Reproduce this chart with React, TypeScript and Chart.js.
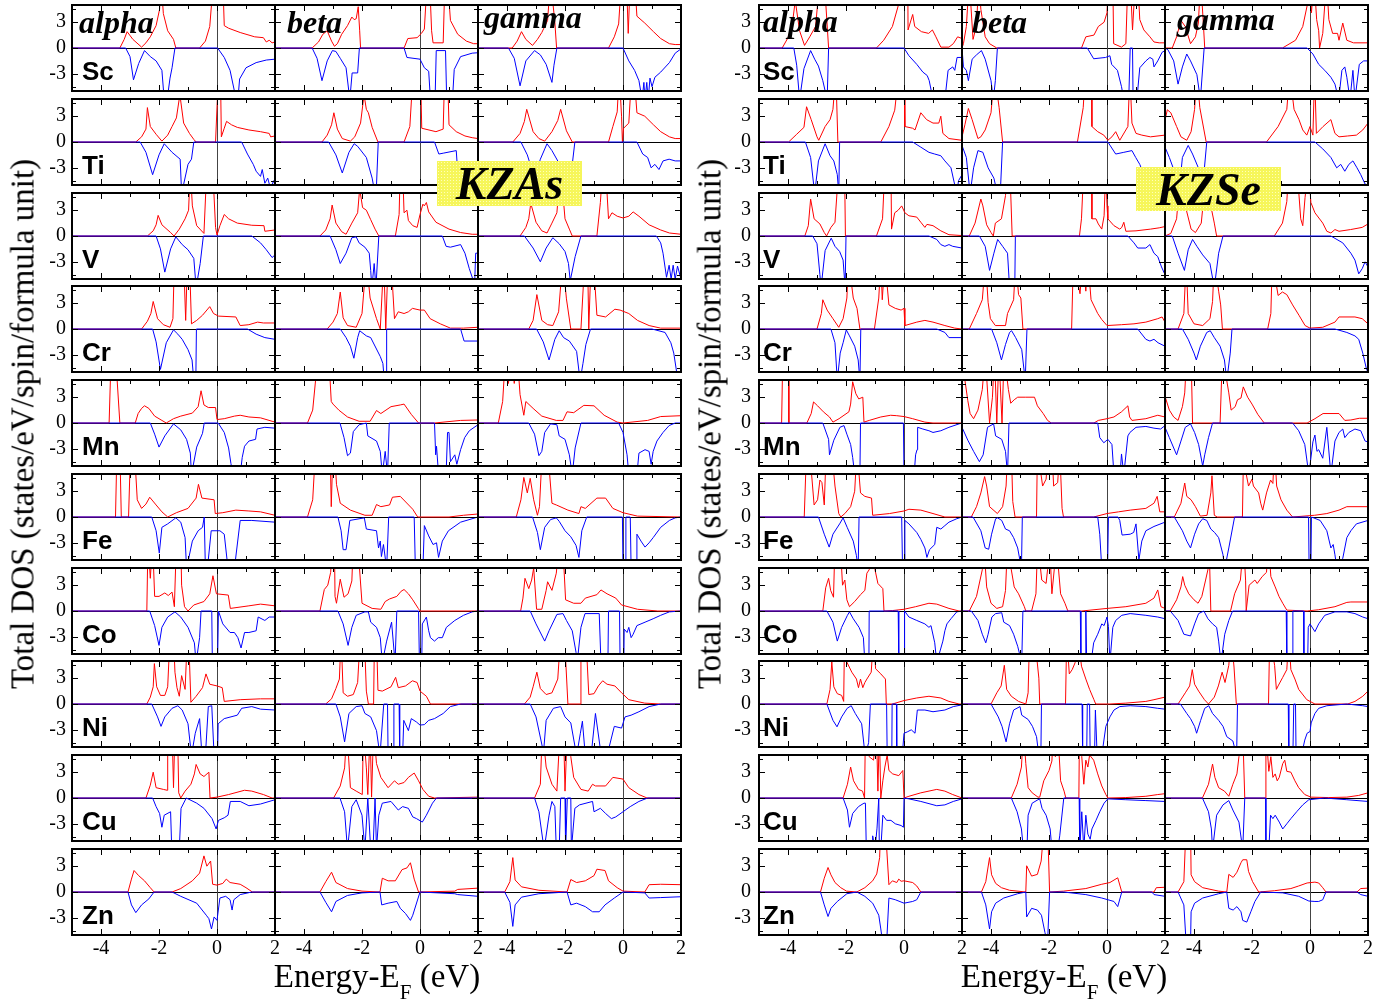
import React, { useEffect, useRef } from 'react';
import { Chart, registerables } from 'chart.js';

Chart.register(...registerables);

// ---------- labels & axes ----------
const ELEMENTS = ['Sc', 'Ti', 'V', 'Cr', 'Mn', 'Fe', 'Co', 'Ni', 'Cu', 'Zn'];
const PHASES = ['alpha', 'beta', 'gamma'];
const COMPOUNDS = ['KZAs', 'KZSe'];
const X_MIN = -5, X_MAX = 2, Y_MIN = -5, Y_MAX = 5;
const X_LABEL_TICKS = [-4, -2, 0, 2];
const Y_LABEL_TICKS = [-3, 0, 3];
const X_MARKS = [-4, -3, -2, -1, 0, 1];
const Y_MARKS = [-4.5, -3, 0, 3, 4.5];
const Y_TITLE = 'Total DOS (states/eV/spin/formula unit)';

// ---------- KZAs data: [E, DOS] pairs, up = red, dn = blue ----------
const asSc_a_up = [-5,0,-3.35,0,-3.2,1,-3.1,1.9,-2.9,1,-2.6,0.1,-2.45,0.6,-2.3,1.3,-2.1,2.6,-1.98,4.5,-1.93,8,-1.85,4,-1.7,2,-1.5,1,-1.42,0,-0.6,0,-0.4,0.8,-0.25,2.5,-0.12,8,0.2,8,0.25,2.6,0.4,2.3,0.8,1.8,1.3,1.3,1.6,1.2,1.7,0.7,1.8,0.9,1.9,0.6,2,0.7];
const asSc_a_dn = [-5,0,-3.15,0,-3,-1,-2.88,-3.7,-2.7,-1.8,-2.5,-0.3,-2.3,-1,-2.1,-1.5,-1.9,-2.6,-1.82,-6,-1.72,-6,-1.62,-3.5,-1.55,-2.3,-1.45,0,0.02,0,0.25,-1.1,0.45,-2.6,0.6,-5,0.72,-6,0.78,-3.6,1,-2.3,1.35,-1.7,1.7,-1.4,2,-1.3];
const asSc_b_up = [-5,0,-3.72,0,-3.5,0.7,-3.35,1.6,-3.2,2,-3.05,0.8,-2.95,0.2,-2.85,0.5,-2.7,1.6,-2.5,2.6,-2.35,3.6,-2.27,3.3,-2.2,3.4,-2.13,4.8,-2.08,2,-2.05,0,-0.55,0,-0.42,1.1,-0.1,1.2,0.05,1.7,0.15,2.2,0.25,8,0.33,8,0.4,2,0.45,0.6,0.8,0.6,0.86,8,0.95,8,1.05,3.2,1.3,1.6,1.6,0.8,1.85,0.5,2,0.5];
const asSc_b_dn = [-5,0,-3.72,0,-3.55,-1.2,-3.38,-3.8,-3.2,-1.5,-3.02,-0.3,-2.9,-0.4,-2.75,-1.2,-2.55,-2.3,-2.42,-6,-2.34,-2.9,-2.15,-2.9,-2.09,0,-0.55,0,-0.45,-1.1,0,-1.3,0.15,-2.3,0.3,-2.7,0.36,-6,0.52,-6,0.56,-0.3,0.88,-0.3,0.92,-6,1.12,-6,1.18,-2.5,1.4,-1,1.8,-0.6,2,-0.55];
const asSc_g_up = [-5,0,-3.82,0,-3.65,0.8,-3.5,1.9,-3.35,1,-3.12,0.3,-2.95,1,-2.8,1.8,-2.6,3.2,-2.5,8,-2.35,3,-2.29,0,-0.5,0,-0.3,1.3,-0.15,2.8,-0.05,8,0.12,8,0.18,1.7,0.25,8,0.4,8,0.48,3.7,0.75,2.9,1.05,1.9,1.3,1.1,1.6,0.5,1.8,0.4,2,0.4];
const asSc_g_dn = [-5,0,-3.95,0,-3.75,-1.2,-3.55,-4.4,-3.35,-1.5,-3.05,-0.3,-2.85,-0.8,-2.65,-1.9,-2.45,-4,-2.38,-2,-2.28,0,0,0,0.2,-1.5,0.4,-2.6,0.55,-3.8,0.66,-6,0.72,-4,0.76,-6,0.82,-4,0.87,-6,0.93,-3.5,1,-4.5,1.1,-3.4,1.3,-2.8,1.6,-1.7,1.8,-0.6,2,-0.1];

const asTi_a_up = [-5,0,-2.8,0,-2.6,0.6,-2.45,1.5,-2.4,4,-2.3,1.8,-2.1,0.9,-1.9,0.1,-1.7,0.8,-1.55,1.8,-1.4,2.8,-1.28,5.5,-1.15,2.2,-0.95,1,-0.8,0.3,-0.72,0,-0.05,0,0.05,8,0.12,8,0.15,0.6,0.25,1.6,0.33,2.4,0.5,2,0.7,1.7,1.1,1.4,1.5,1.2,1.8,1,1.85,0.6,2,0.7];
const asTi_a_dn = [-5,0,-2.65,0,-2.45,-1.2,-2.22,-3.8,-2,-1.5,-1.82,-0.2,-1.55,-1.2,-1.27,-2,-1.22,-6,-1,-2.6,-0.88,-2,-0.8,0,0.85,0,1.05,-1.4,1.25,-2.6,1.35,-3.4,1.5,-4,1.56,-3.2,1.65,-4.8,1.75,-4.2,1.85,-5.5,1.95,-4.5,2,-5];
const asTi_b_up = [-5,0,-3.38,0,-3.2,0.8,-3.05,2,-2.97,3.4,-2.85,1.5,-2.68,0.4,-2.4,0.1,-2.25,0.6,-2.05,2.2,-1.93,5.5,-1.85,3.8,-1.78,3.4,-1.65,1.7,-1.45,0,-0.55,0,-0.35,1.8,-0.24,8,0.02,8,0.06,1.6,0.55,1.2,0.8,1.5,0.85,8,0.95,8,1,2,1.25,1.2,1.55,0.7,1.8,0.5,2,0.4];
const asTi_b_dn = [-5,0,-3.15,0,-2.9,-1.5,-2.68,-3.6,-2.45,-1.2,-2.27,-0.2,-2.15,-0.5,-1.85,-1.8,-1.65,-4.2,-1.58,-5.5,-1.5,-5,-1.44,0,0.5,0,0.65,-1.4,0.8,-1.3,1.25,-1,1.35,-6,1.6,-4.5,2,-4.5];
const asTi_g_up = [-5,0,-3.8,0,-3.55,1,-3.4,2.4,-3.32,3.8,-3.1,1.2,-2.9,0.4,-2.7,0.1,-2.45,1.2,-2.25,2.5,-2.15,3.8,-1.95,1.3,-1.75,0,-0.5,0,-0.35,1.8,-0.2,3.5,-0.13,8,-0.05,3,-0.02,0,0.02,1.6,0.2,2.2,0.3,8,0.38,8,0.48,3.4,0.75,3,1.05,2,1.3,1.2,1.6,0.6,1.8,0.4,2,0.4];
const asTi_g_dn = [-5,0,-3.52,0,-3.3,-1.5,-3.05,-4.2,-2.85,-2,-2.62,-0.2,-2.45,-1,-2.05,-3.4,-1.85,-5.5,-1.66,0,0.48,0,0.68,-1.4,0.85,-1.8,0.97,-3,1.1,-2.6,1.24,-3.2,1.38,-2.2,1.59,-2,1.8,-2.2,2,-2.2];

const asV_a_up = [-5,0,-2.4,0,-2.2,0.6,-2.1,1.3,-2.03,2.4,-1.9,1.3,-1.6,0.4,-1.48,0,-1.3,0.8,-1.1,2,-0.98,3,-0.92,8,-0.85,3.5,-0.7,1.2,-0.45,0.3,-0.35,8,-0.15,8,-0.05,1,0,0.1,0.1,1.2,0.25,2.5,0.4,2,0.7,1.5,1.2,1.25,1.62,1.2,1.65,0.55,2,0.7];
const asV_a_dn = [-5,0,-2.1,0,-1.95,-1.5,-1.8,-4.2,-1.6,-1.5,-1.42,-0.1,-1.2,-1,-1,-1.6,-0.8,-2.6,-0.72,-6,-0.58,-3.2,-0.47,0,1.2,0,1.5,-0.8,1.7,-1.6,1.9,-2.5,2,-2.2];
const asV_b_up = [-5,0,-3.45,0,-3.25,0.7,-3.1,2,-3.03,3.6,-2.9,1.5,-2.7,0.5,-2.55,0.2,-2.35,1.5,-2.15,2.7,-2.08,5.5,-1.98,3.3,-1.85,3,-1.7,1.9,-1.55,0.8,-1.42,0,-0.85,0,-0.72,2.5,-0.68,8,-0.6,8,-0.55,2.7,-0.45,3,-0.4,1.8,-0.25,1.2,-0.1,1,0,2.5,0.1,3.7,0.15,3.5,0.22,3.9,0.3,2.8,0.55,1.6,1,0.8,1.4,0.4,1.8,0.2,2,0.2];
const asV_b_dn = [-5,0,-3.1,0,-2.9,-1.6,-2.75,-3.2,-2.55,-2,-2.35,-0.2,-2.2,-0.1,-2.1,-0.8,-1.9,-1.3,-1.75,-2,-1.7,-4,-1.66,-6,-1.58,-3.2,-1.52,-6,-1.42,0,0.77,0,0.9,-1.2,1.05,-1.3,1.4,-1,1.55,-2,1.7,-3.8,1.82,-5,1.88,-6,1.92,-2,2,-2];
const asV_g_up = [-5,0,-3.55,0,-3.35,1,-3.25,2,-3.18,3.8,-3,1.6,-2.8,0.6,-2.62,0.35,-2.45,1.5,-2.28,2.7,-2.15,8,-2,2,-1.85,0.8,-1.75,0,-0.9,0,-0.78,3.9,-0.7,8,-0.6,8,-0.5,2,-0.38,2.7,-0.2,2.3,0,2.1,0.2,2.3,0.35,2.8,0.55,2.3,0.9,1.3,1.3,0.7,1.6,0.35,2,0.2];
const asV_g_dn = [-5,0,-3.4,0,-3.1,-1.4,-2.85,-3,-2.65,-1.4,-2.42,-0.2,-2.2,-0.9,-2,-1.8,-1.88,-3.2,-1.82,-5.2,-1.65,-2.4,-1.45,0,1.15,0,1.3,-0.8,1.38,-2,1.5,-4.8,1.59,-3.4,1.66,-5,1.73,-3.4,1.8,-5,1.88,-3.5,2,-5];

const asCr_a_up = [-5,0,-2.6,0,-2.4,0.9,-2.28,1.8,-2.2,3.2,-2.05,1.2,-1.85,0.5,-1.62,0.2,-1.52,1.2,-1.47,8,-1.15,8,-1.08,1,-1.02,8,-0.95,8,-0.88,0.6,-0.7,1,-0.5,1.6,-0.25,2.6,-0.12,1.8,0.05,1.5,0.65,1.4,0.8,0.4,1.1,0.5,1.4,0.8,1.6,0.7,2,0.7];
const asCr_a_dn = [-5,0,-2.22,0,-2.1,-1.5,-1.95,-4.7,-1.75,-1.6,-1.5,-0.1,-1.35,-0.6,-1.2,-1.2,-1,-2.4,-0.86,-3.6,-0.8,-6,-0.73,-6,-0.71,0,1.05,0,1.35,-0.6,1.65,-1,2,-1.2];
const asCr_b_up = [-5,0,-3.2,0,-3,0.8,-2.85,1.8,-2.75,4.3,-2.65,1.3,-2.5,0.4,-2.2,0.2,-2,1.8,-1.85,8,-1.72,3.6,-1.5,1.2,-1.37,0,-1.25,8,-1.18,0,-1.1,8,-1,8,-0.88,1.2,-0.75,2,-0.55,1.8,-0.4,2,-0.26,2.4,0,2.2,0.15,2.2,0.35,1.2,0.7,0.6,1.05,0.1,1.5,0.1,2,0.2];
const asCr_b_dn = [-5,0,-2.75,0,-2.55,-1,-2.4,-2,-2.28,-3.4,-2.15,-1,-2.08,-0.2,-1.85,-0.8,-1.7,-1,-1.37,-3.2,-1.28,-4,-1.23,-6,-1.17,-6,-1.15,0,1.4,0,1.52,-1.4,2,-1.4];
const asCr_g_up = [-5,0,-3.25,0,-3.1,1,-2.97,4,-2.8,1,-2.6,0.5,-2.42,0.4,-2.22,2,-2.08,8,-1.95,3.5,-1.8,0,-1.45,0,-1.32,8,-1.22,8,-1.18,0,-1.1,8,-1.02,8,-0.9,1.6,-0.6,1.4,-0.28,2.3,-0.1,2.2,0.2,1.8,0.5,1,0.9,0.4,1.3,0.1,2,0.1];
const asCr_g_dn = [-5,0,-2.98,0,-2.75,-1.5,-2.55,-3.6,-2.35,-1.2,-2.2,-0.2,-2.05,-1,-1.85,-1.4,-1.6,-2.6,-1.48,-6,-1.38,-4,-1.28,-1.8,-1.12,0,1,0,1.45,-0.4,1.65,-1.6,1.75,-2.8,1.85,-5,2,-5];

const asMn_a_up = [-5,0,-3.72,0,-3.65,8,-3.5,8,-3.35,0,-2.82,0,-2.72,1.1,-2.6,1.7,-2.5,2,-2.35,1.7,-2.15,0.8,-1.9,0.3,-1.75,0,-1.5,0.5,-1.25,0.8,-0.85,1.15,-0.65,1.9,-0.55,3.75,-0.45,2.1,-0.3,1.8,-0.05,1.8,0,0.4,0.25,0.5,0.6,0.8,0.8,0.9,1.1,0.7,1.5,0.6,1.9,0.2,2,0.1];
const asMn_a_dn = [-5,0,-2.3,0,-2.15,-1.3,-2,-2.8,-1.8,-1.5,-1.5,-0.1,-1.25,-0.8,-1.05,-1.9,-0.92,-3.5,-0.88,-6,-0.7,-2.8,-0.5,-1.2,-0.44,0,0.04,0,0.25,-1.1,0.4,-2.9,0.48,-4.7,0.55,-6,0.8,-6,0.87,-4,0.95,-2.7,1.1,-2.1,1.33,-1.9,1.38,-0.7,1.65,-0.5,2,-0.6];
const asMn_b_up = [-5,0,-3.88,0,-3.7,1.5,-3.6,5,-3.55,8,-3.15,8,-3.06,2.5,-3,2.2,-2.8,1.5,-2.5,0.7,-2.1,0.2,-1.72,0.2,-1.5,1.45,-1.35,1.1,-1,1.9,-0.68,2.1,-0.55,2.2,-0.3,1,-0.05,0,0.5,0,1.4,0.3,2,0.35];
const asMn_b_dn = [-5,0,-2.76,0,-2.62,-1.7,-2.5,-3.8,-2.4,-3.5,-2.3,-1,-2.1,-0.2,-1.85,0,-1.8,-1.5,-1.5,-2.1,-1.37,-3.3,-1.3,-6,-1.2,-3.3,-1.12,-6,-1.06,0,0.5,0,0.54,-3.7,0.57,-2.7,0.64,-6,0.9,-6,0.95,-1.1,1,-1.1,1.05,-4.5,1.2,-3.7,1.27,-4.8,1.4,-3.1,1.54,-1.7,1.7,-0.9,2,-0.2];
const asMn_g_up = [-5,0,-4.3,0,-4.15,2.5,-4.05,8,-3.95,4.6,-3.85,8,-3.75,4.6,-3.65,8,-3.55,3.3,-3.42,0.9,-3.35,2.5,-3.1,1.7,-2.8,0.8,-2.3,0.3,-2.07,0.3,-1.93,1.3,-1.7,1.2,-1.35,2.05,-1,2,-0.65,0.9,-0.2,0.1,0,0,0.85,0.3,1.3,0.75,2,0.85];
const asMn_g_dn = [-5,0,-3.25,0,-3.05,-1.3,-2.9,-3.8,-2.8,-3.3,-2.7,-1.1,-2.5,-0.1,-2.28,-0.2,-2.2,-1.5,-2,-1.9,-1.85,-3.7,-1.75,-6,-1.65,-2.9,-1.45,0,-0.15,0,0,-1.1,0.14,-3.7,0.2,-6,0.48,-6,0.55,-3.5,0.76,-3.1,0.9,-3.3,0.97,-4.8,1.04,-3.3,1.17,-2.1,1.38,-1.1,1.59,-0.3,1.8,0,2,0];

const asFe_a_up = [-5,0,-3.5,0,-3.45,8,-3.35,8,-3.3,0,-3.05,0,-2.98,8,-2.85,8,-2.75,2,-2.6,1,-2.45,1.5,-2.32,2.3,-2.1,1.4,-1.9,0.6,-1.7,0,-1.4,0.5,-1,1,-0.72,2.2,-0.64,3.8,-0.52,2.2,-0.1,2,-0.06,0.4,0.2,0.5,0.65,0.8,1.1,0.7,1.5,0.6,2,0.2];
const asFe_a_dn = [-5,0,-2.25,0,-2.1,-1.6,-1.99,-4.2,-1.9,-1.2,-1.7,-0.8,-1.42,-0.1,-1.25,-0.6,-1.1,-2.4,-1.05,-6,-0.85,-2.8,-0.65,-1.6,-0.5,-1.2,-0.44,0,-0.4,-6,-0.33,-6,-0.2,-1.6,0.1,-1.6,0.25,-2,0.38,-6,0.6,-6,0.8,-0.4,1.2,-0.4,2,-0.6];
const asFe_b_up = [-5,0,-3.88,0,-3.7,2,-3.6,8,-3.1,8,-3.06,1.2,-3,8,-2.95,8,-2.88,3.8,-2.75,1.6,-2.4,0.8,-1.9,0.2,-1.65,0.2,-1.5,1.45,-1.35,1.2,-1.05,1.4,-0.95,2.3,-0.68,2.4,-0.25,0.9,-0.08,0,1,0,1.5,0.2,2,0.35];
const asFe_b_dn = [-5,0,-2.83,0,-2.72,-1.6,-2.65,-3.8,-2.55,-3.8,-2.42,-0.4,-1.92,-0.1,-1.85,-1.4,-1.5,-1.6,-1.43,-3.6,-1.37,-2.8,-1.33,-4.6,-1.26,-3.2,-1.15,-6,-1.08,0,-0.2,0,-0.16,-6,0.1,-6,0.15,-1,0.3,-2.2,0.45,-3.2,0.57,-3,0.64,-4.7,0.77,-2.8,0.98,-1.6,1.4,-0.6,1.9,-0.1,2,0];
const asFe_g_up = [-5,0,-3.68,0,-3.52,2,-3.42,4.6,-3.3,2.8,-3.2,4.5,-3.08,2,-2.95,0.2,-2.88,1.2,-2.78,8,-2.6,8,-2.45,1.6,-2.3,1.4,-1.9,0.8,-1.52,0.4,-1.45,1.2,-1.3,1,-0.9,2.2,-0.6,2.2,-0.35,1,0,0.5,0.5,0.1,2,0];
const asFe_g_dn = [-5,0,-3.12,0,-2.95,-1.8,-2.85,-3.8,-2.7,-1.2,-2.5,-0.3,-2.3,-0.1,-2.2,-0.5,-2,-1.6,-1.8,-2.3,-1.62,-3.3,-1.52,-4.7,-1.42,-1.6,-1.25,0,-0.02,0,0,-6,0.08,-6,0.1,0,0.25,0,0.28,-6,0.45,-6,0.48,-2,0.62,-2.8,0.76,-3.5,0.9,-3,1.04,-2.4,1.3,-1.2,1.6,-0.4,1.8,-0.1,2,0];

const asCo_a_up = [-5,0,-2.42,0,-2.38,8,-2.3,3.8,-2.22,8,-2.15,1.7,-2,1.7,-1.8,2.1,-1.68,1.8,-1.55,2.2,-1.47,0.5,-1.4,8,-1.25,8,-1.22,3,-1.12,0.5,-1,0,-0.8,0.7,-0.45,1.1,-0.25,2,-0.14,4.1,-0.02,2,0.39,1.85,0.46,0.3,1.1,0.6,1.5,0.8,2,0.6];
const asCo_a_dn = [-5,0,-2.32,0,-2.15,-1.7,-2,-4,-1.9,-1.9,-1.7,-0.7,-1.45,-0.1,-1.25,-0.7,-1,-1.9,-0.78,-3.7,-0.72,-6,-0.6,-3.1,-0.55,0,-0.18,0,-0.16,-6,0.02,-6,0.05,0,0.2,-1.5,0.45,-2.5,0.6,-2.5,0.72,-3.1,0.83,-4.3,0.95,-2.5,1.1,-2.5,1.35,-2.3,1.42,-0.7,1.65,-1.1,1.8,-0.7,2,-0.7];
const asCo_b_up = [-5,0,-3.45,0,-3.3,2.5,-3.18,3,-3.08,4.5,-3.02,8,-2.95,8,-2.93,1.7,-2.88,0.9,-2.75,3.7,-2.62,1.6,-2.48,2,-2.35,3.5,-2.3,8,-2.15,8,-2,0.9,-1.65,0.3,-1.35,0.2,-1.2,1.1,-1.05,1.4,-0.8,1.7,-0.65,2.3,-0.55,2.5,-0.4,2,-0.25,1.3,-0.06,0.3,0,0,2,0];
const asCo_b_dn = [-5,0,-2.83,0,-2.65,-1.5,-2.48,-4,-2.35,-1.9,-2.2,-0.5,-1.9,-0.1,-1.78,-0.1,-1.7,-1.3,-1.5,-1.9,-1.37,-3.1,-1.3,-6,-1.15,-3.5,-0.98,-1.3,-0.86,-6,-0.8,0,-0.05,0,-0.02,-6,0.06,-6,0.08,-1.5,0.22,-0.7,0.3,-2.3,0.36,-3.1,0.5,-3.5,0.63,-3.1,0.77,-3.1,0.91,-1.9,1.2,-1.1,1.5,-0.5,1.8,-0.1,2,0];
const asCo_g_up = [-5,0,-3.53,0,-3.45,1.5,-3.38,3.8,-3.25,2.6,-3.15,3.6,-3.08,5,-2.98,0.2,-2.8,0.2,-2.65,2.4,-2.6,3.4,-2.45,2.4,-2.3,4.4,-2.2,8,-2.08,8,-1.98,1.3,-1.7,0.9,-1.45,0.9,-1.3,1.5,-0.9,1.9,-0.76,2.45,-0.55,2,-0.25,1.5,-0.05,0.7,0.5,0.2,1.2,0,2,0];
const asCo_g_dn = [-5,0,-3.2,0,-3,-1.5,-2.7,-3.5,-2.55,-2.3,-2.28,-0.4,-2.07,-0.3,-1.95,-1.1,-1.75,-2.3,-1.62,-4.8,-1.58,-6,-1.45,-1.9,-1.31,-0.3,-0.82,-0.3,-0.76,-6,-0.52,-6,-0.5,0,-0.12,0,-0.1,-6,0.03,-6,0.04,-2.1,0.14,-2.5,0.2,-1.9,0.28,-3.1,0.35,-2.7,0.48,-1.7,0.76,-1.3,1.04,-0.9,1.3,-0.5,1.6,-0.1,2,0];

const asNi_a_up = [-5,0,-2.42,0,-2.3,0.8,-2.2,2,-2.16,4.7,-2.08,2,-1.95,1,-1.8,1,-1.7,2,-1.62,8,-1.5,8,-1.45,3.7,-1.38,1.9,-1.3,0.9,-1.22,3.3,-1.1,1.7,-1.02,8,-0.98,8,-0.9,0.2,-0.72,0.9,-0.5,1.9,-0.38,3.5,-0.25,2.3,0,2.1,0.18,1.9,0.25,0.3,0.8,0.5,1.5,0.6,2,0.6];
const asNi_a_dn = [-5,0,-2.25,0,-2.05,-1.5,-1.93,-2.6,-1.8,-1.5,-1.55,-0.5,-1.35,-0.2,-1.2,-0.7,-1,-2.3,-0.88,-6,-0.75,-3.4,-0.6,-1.7,-0.52,-6,-0.4,-6,-0.3,-0.3,-0.18,-0.2,-0.1,-6,0.02,-6,0.04,-2.3,0.25,-1.7,0.7,-1.3,0.85,-0.5,1.2,-0.3,1.5,-0.6,2,-0.7];
const asNi_b_up = [-5,0,-3.25,0,-3.05,0.6,-2.9,1.8,-2.78,2.9,-2.72,8,-2.65,1.3,-2.5,0.9,-2.3,1.1,-2.15,2.5,-2.06,8,-1.92,8,-1.85,1.5,-1.78,0,-1.6,0,-1.57,8,-1.5,8,-1.45,1.6,-1.3,1.5,-1,2,-0.84,3.1,-0.75,1.9,-0.5,2.1,-0.26,2.7,-0.1,2.5,0,1.5,0.22,0.9,0.36,0,2,0];
const asNi_b_dn = [-5,0,-2.9,0,-2.75,-1.5,-2.6,-4.4,-2.45,-1.1,-2.2,-0.3,-2,-0.2,-1.9,-1.1,-1.7,-1.5,-1.5,-3.1,-1.38,-6,-1.25,0,-1.12,0,-1.1,-6,-0.92,-6,-0.9,0,-0.72,0,-0.7,-6,-0.6,-6,-0.56,-1.9,-0.4,-3.1,-0.3,-1.7,-0.12,-2.1,0,-2.45,0.15,-2.4,0.3,-1.9,0.5,-1.7,0.8,-1.1,1.05,-0.3,1.4,0,2,0];
const asNi_g_up = [-5,0,-3.4,0,-3.2,0.8,-3.1,2,-2.97,3.7,-2.85,1.8,-2.65,1.1,-2.45,1.3,-2.25,2.9,-2.15,8,-2.02,8,-1.9,0,-1.46,0,-1.45,8,-1.28,8,-1.18,1.1,-1,1.2,-0.85,2.1,-0.7,2.7,-0.55,2.3,-0.28,2.1,-0.05,1.3,0.2,0.5,0.75,0.1,1.3,0,2,0];
const asNi_g_dn = [-5,0,-3.2,0,-3,-1.5,-2.78,-5,-2.75,-6,-2.65,-1.9,-2.4,-0.5,-2.15,-0.3,-2,-1.5,-1.8,-2.2,-1.6,-6,-1.47,-3.4,-1.4,-2,-1.3,-6,-1.1,-6,-0.95,-1.1,-0.75,-6,-0.55,-6,-0.3,-2.6,-0.05,-2.8,0.07,-1.5,0.28,-1.3,0.55,-0.9,0.9,-0.3,1.3,0,2,0];

const asCu_a_up = [-5,0,-2.45,0,-2.3,1.5,-2.2,3,-2.1,1.2,-1.85,1,-1.72,0.9,-1.7,8,-1.55,8,-1.5,1.2,-1.45,8,-1.36,8,-1.32,0.6,-1.25,0,-1.1,0.8,-0.9,1.6,-0.78,2.8,-0.72,3.9,-0.58,2.8,-0.45,2.5,-0.28,3,-0.24,0,0,0.1,0.4,0.4,0.95,0.9,1.2,0.8,1.6,0.4,1.9,0,2,0];
const asCu_a_dn = [-5,0,-2.22,0,-2.1,-1,-1.98,-1.8,-1.9,-3.4,-1.82,-2,-1.6,-1.6,-1.56,-6,-1.3,-6,-1.24,-1.2,-1.06,0,-0.7,-0.6,-0.45,-1.2,-0.17,-2.4,-0.03,-3.6,0.05,-2.6,0.25,-2.3,0.38,-2,0.46,-0.4,0.8,-0.4,1.1,-0.9,1.5,-0.7,2,-0.2];
const asCu_b_up = [-5,0,-2.98,0,-2.75,1.4,-2.6,3.5,-2.52,8,-2.4,1.2,-2.2,0.8,-1.99,0.4,-1.95,8,-1.85,3.5,-1.8,0.4,-1.72,8,-1.67,0.1,-1.6,8,-1.5,4,-1.35,2.4,-1.1,1.2,-0.88,2,-0.75,1.6,-0.55,1.8,-0.4,2.4,-0.2,2.9,-0.05,2,0.1,1,0.3,0.2,0.5,0,2,0.1];
const asCu_b_dn = [-5,0,-2.76,0,-2.6,-1.6,-2.5,-6,-2.35,-1,-2.2,-0.2,-2,-2,-1.9,-6,-1.8,0,-1.7,-6,-1.62,-6,-1.55,0,-1.5,-6,-1.42,-2,-1.3,-0.6,-1,-0.4,-0.75,-1.4,-0.6,-1,-0.4,-1.2,-0.25,-2.2,-0.12,-2.4,0.08,-2.8,0.22,-2,0.43,-0.6,0.57,0,2,0];
const asCu_g_up = [-5,0,-3.05,0,-2.85,1.6,-2.78,8,-2.65,3.6,-2.45,1.6,-2.28,0.8,-2.17,8,-2.05,8,-2,0.8,-1.92,8,-1.85,8,-1.8,4.8,-1.7,2.4,-1.45,1,-1.2,0.8,-1.05,1.6,-0.95,1.4,-0.6,1.4,-0.4,2.2,-0.35,2.4,0,2.2,0.2,1.2,0.55,0.4,0.83,0,2,0];
const asCu_g_dn = [-5,0,-3.05,0,-2.9,-1.6,-2.72,-6,-2.55,-2,-2.45,-0.4,-2.35,-1,-2.3,-6,-2.2,-6,-2.15,0,-2,0,-1.98,-6,-1.92,0,-1.8,0,-1.78,-6,-1.66,-1.2,-1.5,-0.8,-1.05,-0.4,-1,-1.6,-0.78,-1.2,-0.6,-1.8,-0.4,-2.4,-0.25,-2.2,0,-1.6,0.25,-1,0.55,-0.4,0.85,0,2,0];

const asZn_a_up = [-5,0,-3.07,0,-2.95,1.5,-2.86,2.5,-2.7,1.9,-2.5,1.3,-2.3,0.5,-2.17,0,-1.55,0,-1.25,0.4,-0.85,1.3,-0.6,2.2,-0.45,4.2,-0.35,3,-0.22,3.6,-0.15,0.9,0,0.8,0.2,1,0.32,1.5,0.45,1.1,0.8,0.9,1,0.5,1.22,0,2,0];
const asZn_a_dn = [-5,0,-3.07,0,-2.95,-1.5,-2.8,-2.4,-2.6,-1.5,-2.35,-0.8,-2.17,0,-1.55,0,-1.25,-0.5,-0.7,-1.3,-0.37,-2.7,-0.28,-3.1,-0.19,-4.3,-0.1,-2.9,0,-3.3,0.1,-0.7,0.3,-0.5,0.45,-0.9,0.52,-2.1,0.58,-0.9,0.8,-0.3,1.2,0,2,0];
const asZn_b_up = [-5,0,-3.45,0,-3.25,1.2,-3.05,2.3,-2.9,1.1,-2.5,0.4,-2,0.1,-1.38,0,-1.3,1.6,-1.1,1.3,-0.85,1.3,-0.62,2.6,-0.45,2.8,-0.33,3.4,-0.2,1.5,-0.05,0,1.2,0.1,1.3,0.3,2,0.45];
const asZn_b_dn = [-5,0,-3.45,0,-3.25,-1.2,-3.05,-2.3,-2.9,-1.1,-2.5,-0.4,-2,-0.1,-1.38,0,-1.32,-1.5,-1.1,-1.3,-0.8,-1.1,-0.68,-1.9,-0.5,-2.5,-0.33,-3.3,-0.25,-2.7,0,0,1.2,-0.2,1.3,-0.3,2,-0.5];
const asZn_g_up = [-5,0,-4.08,0,-3.9,1.2,-3.8,4,-3.72,1.4,-3.5,0.6,-2.9,0.2,-1.93,0,-1.8,1.45,-1.6,1.1,-1.3,1.3,-1,1.9,-0.9,2.65,-0.62,2.5,-0.5,1.3,-0.2,0.5,0,0.1,0.75,0,0.9,0.85,1.3,0.9,2,0.85];
const asZn_g_dn = [-5,0,-4.08,0,-3.9,-1.2,-3.8,-4,-3.72,-1.5,-3.5,-0.6,-2.9,-0.2,-1.93,0,-1.8,-1.5,-1.6,-1.3,-1.3,-1.7,-1.05,-2.3,-0.82,-2.3,-0.62,-1.5,-0.3,-0.7,0,0,0.75,-0.1,0.9,-0.7,1.3,-0.65,2,-0.55];

// ---------- KZSe data ----------
const seSc_a_up = [-5,0,-4.2,0,-4,1.2,-3.85,2.8,-3.75,5.5,-3.6,2,-3.43,0.3,-3.25,1.3,-3.05,2.5,-2.9,8,-2.75,8,-2.6,0,-0.95,0,-0.7,0.9,-0.4,2.5,-0.2,4.9,-0.1,8,0.13,8,0.14,2.1,0.3,3.9,0.37,2.5,0.6,1.9,0.85,1.7,0.98,2.1,1.1,1.3,1.27,0.1,1.55,0.1,1.7,0.5,1.85,1.3,2,1.1];
const seSc_a_dn = [-5,0,-3.8,0,-3.7,-2,-3.6,-6,-3.45,-2.4,-3.22,-0.3,-3.08,-1.3,-2.95,-2.1,-2.8,-3.8,-2.65,-6,-2.6,0,0,0,0.17,-0.9,0.44,-1.9,0.65,-2.8,0.8,-3.2,0.87,-3.8,1,-6,1.41,-6,1.52,-2.6,1.68,-2.2,1.75,-2.6,1.83,-1.1,2,-1.1];
const seSc_b_up = [-5,0,-4.95,0.5,-4.85,2.5,-4.75,8,-4.62,1,-4.5,2.6,-4.42,8,-4.35,4.5,-4.2,1.3,-4.05,0.5,-3.8,0,-0.88,0,-0.73,1.3,-0.45,1.5,-0.3,2.5,-0.1,3,0,4.1,0.05,8,0.2,8,0.23,0.5,0.5,0.1,0.65,0.5,0.72,8,0.8,8,0.88,2.1,0.98,8,1.06,8,1.13,3.3,1.27,2.1,1.48,1.3,1.62,0.7,1.8,0.6,2,0.6];
const seSc_b_dn = [-5,0,-4.95,-2.2,-4.85,-2.6,-4.78,-3.8,-4.65,-1.3,-4.5,-0.8,-4.33,-0.3,-4.2,-1.3,-4,-3.8,-3.92,-6,-3.85,-3.8,-3.78,0,-0.68,0,-0.46,-1.25,-0.05,-1.1,0.1,-0.9,0.16,-1.9,0.36,-2.6,0.5,-4.5,0.58,-6,0.75,-6,0.8,0,0.88,0,0.9,-6,1.03,-6,1.13,-2.3,1.34,-1.5,1.48,-1.1,1.58,-1.3,1.62,-2.2,1.75,-1.5,1.9,-0.5,2,-0.3];
const seSc_g_up = [-5,0,-4.75,0,-4.6,1.3,-4.45,3.2,-4.3,2.5,-4.12,0.5,-3.95,1.3,-3.85,2.9,-3.77,8,-3.68,3,-3.63,0,-0.95,0,-0.5,0.9,-0.25,2.5,-0.1,4.9,-0.03,8,0.05,4.1,0.14,8,0.23,3.3,0.3,2,0.33,0,0.44,1.7,0.57,8,0.65,3.3,0.78,1.7,0.95,1.7,1,0.9,1.13,2.9,1.27,0.9,1.5,0.6,2,0.6];
const seSc_g_dn = [-5,0,-4.9,-0.2,-4.7,-1.5,-4.55,-4.2,-4.4,-2.2,-4.25,-0.7,-4.12,-1.5,-3.9,-3.1,-3.78,-6,-3.65,0,-0.1,0,0.1,-0.7,0.3,-1.9,0.51,-2.6,0.72,-3.4,0.86,-4.2,0.99,-6,1.1,-2.6,1.2,-2.2,1.27,-3.4,1.38,-6,1.48,-2.6,1.55,-6,1.7,-1.9,1.85,-1.5,2,-1.5];

const seTi_a_up = [-5,0,-3.98,0,-3.7,0.9,-3.45,1.7,-3.36,4.1,-3.2,2.6,-3,0.6,-2.94,0.2,-2.72,1.8,-2.55,2.6,-2.45,3.8,-2.35,8,-2.28,0,-0.8,0,-0.52,1.8,-0.32,3.7,-0.18,8,0,8,0.03,1.8,0.3,1.6,0.38,1.4,0.58,3.4,0.78,2.6,1,2.2,1.2,2.2,1.27,3,1.34,1,1.55,0.4,2,0.2];
const seTi_a_dn = [-5,0,-3.4,0,-3.22,-1.8,-3.08,-6,-2.95,-2.2,-2.72,-0.2,-2.55,-1.6,-2.42,-2.2,-2.3,-3.8,-2.25,-6,-2.22,0,0.3,0,0.58,-0.6,0.86,-1.2,1.06,-1.4,1.27,-1.6,1.41,-2.2,1.62,-3,1.75,-5,1.82,-6,1.88,-4.5,2,-3.8];
const seTi_b_up = [-5,0.6,-4.9,2,-4.78,3.9,-4.65,2.6,-4.45,0.4,-4.35,0.6,-4.2,1.4,-4,3.4,-3.88,8,-3.72,4,-3.6,0,-1.02,0,-0.82,4,-0.75,8,-0.53,8,-0.52,1.8,-0.32,1.2,-0.11,0.8,0.03,0.2,0.17,0.6,0.3,1.2,0.44,0.2,0.72,1.8,0.79,8,0.86,2.2,1,1,1.2,0.8,1.5,0.6,2,0.8];
const seTi_b_dn = [-5,-0.4,-4.85,-1.8,-4.72,-6,-4.6,-3,-4.45,-1,-4.28,-1.2,-4.1,-3,-3.9,-4.2,-3.78,-6,-3.68,-6,-3.6,0,0.03,0,0.3,-1.4,0.58,-1.2,0.86,-1,0.99,-1.8,1.13,-2.6,1.27,-3.8,1.41,-3.2,1.55,-4.2,1.68,-5,1.82,-3.4,2,-4];
const seTi_g_up = [-5,2.5,-4.92,3.75,-4.8,3.4,-4.6,1.8,-4.45,0.6,-4.25,0.2,-4.1,1.2,-3.98,3.8,-3.9,8,-3.8,4,-3.58,0,-1.5,0,-1.1,1.8,-0.8,3.8,-0.7,8,-0.55,3.8,-0.38,2.6,-0.25,1.4,-0.11,0.8,0,1.8,0.1,0.8,0.16,8,0.22,1,0.45,1.8,0.72,2.6,0.86,1,1,0.6,1.3,0.7,1.6,0.8,1.82,1.4,2,2.2];
const seTi_g_dn = [-5,-0.6,-4.85,-1.8,-4.72,-3,-4.6,-4,-4.52,-6,-4.4,-1.8,-4.2,-0.4,-4.05,-1.4,-3.85,-3,-3.72,-6,-3.56,0,0.17,0,0.44,-0.8,0.72,-1.8,0.92,-3,1.06,-2.6,1.2,-3.4,1.34,-2.6,1.48,-2.2,1.62,-3,1.75,-3.8,1.9,-4.9,2,-5];

const seV_a_up = [-5,0,-3.42,0,-3.3,1.2,-3.22,4.3,-3.1,2,-2.9,1.4,-2.75,0.4,-2.67,0,-2.52,1,-2.38,1.6,-2.25,8,-2.05,8,-2.02,0,-0.95,0,-0.74,2,-0.66,8,-0.45,8,-0.43,0.8,-0.32,2.7,-0.2,3,-0.08,3.5,0.03,2.7,0.17,2.35,0.44,2.2,0.58,1.6,0.72,1,0.79,1.35,1,1.2,1.27,0.6,1.55,0.15,2,0.05];
const seV_a_dn = [-5,0,-3.15,0,-3,-0.9,-2.9,-4.5,-2.86,-6,-2.72,-1.7,-2.51,-0.25,-2.38,-1.2,-2.22,-1.8,-2.1,-2.8,-2.03,-6,-2,0,0.86,0,1.13,-0.4,1.27,-1,1.41,-1.2,1.55,-1,1.68,-1.2,2,-1.4];
const seV_b_up = [-5,0,-4.75,0,-4.55,1.5,-4.35,4.3,-4.28,3.5,-4.15,1.3,-4,0.4,-3.92,0,-3.85,1.5,-3.64,2,-3.5,4.7,-3.43,8,-3.35,8,-3.27,0,-0.95,0,-0.88,2,-0.8,8,-0.52,8,-0.52,2,-0.38,2,-0.3,1.4,-0.18,0.8,-0.1,2.35,-0.04,8,0,3.5,0.03,2,0.24,1.2,0.44,0.8,0.51,1,0.58,1.6,0.65,0.55,1,0.6,1.5,0.8,1.8,0.95,2,1.1];
const seV_b_dn = [-5,0,-4.4,0,-4.2,-1.2,-4.05,-4,-3.9,-2,-3.77,-0.4,-3.6,-1.2,-3.43,-2,-3.36,-6,-3.18,-6,-3.16,0,0.72,0,0.93,-0.8,1.06,-1.4,1.34,-1.4,1.48,-1,1.62,-2,1.75,-2.4,1.88,-3.6,2,-4.5];
const seV_g_up = [-5,0,-4.8,0.3,-4.6,2,-4.45,8,-4.3,3.5,-4.1,0.8,-3.95,0.4,-3.75,1.5,-3.56,8,-3.42,3.5,-3.3,1.5,-3.22,0,-1.23,0,-0.95,1.5,-0.8,4,-0.73,8,-0.45,8,-0.32,2,-0.25,1.2,-0.17,4.5,-0.05,8,0.03,3.9,0.17,2.7,0.44,1.5,0.58,0.55,0.72,0.35,0.86,0.75,1,0.55,1.4,0.75,1.8,1,2,1.4];
const seV_g_dn = [-5,0,-4.75,0,-4.55,-2,-4.33,-4,-4.2,-1.6,-4.05,-0.4,-3.9,-1.2,-3.7,-2.2,-3.45,-3.2,-3.3,-6,-3.15,-2,-3,0,0.72,0,1.13,-0.8,1.41,-2,1.55,-2.8,1.68,-4.4,1.8,-3.8,1.9,-3,2,-3.6];

const seCr_a_up = [-5,0,-3,0,-2.85,1.8,-2.8,3.4,-2.65,2.2,-2.45,1.2,-2.25,0.2,-2.1,1.2,-1.97,3.6,-1.91,8,-1.75,3.6,-1.62,2.4,-1.52,0,-1.02,0,-0.87,3.6,-0.8,8,-0.75,3.4,-0.66,8,-0.52,2.8,-0.3,2.4,-0.1,2.2,0,2.4,0.03,0.4,0.44,0.8,0.72,1,1,0.8,1.41,0.4,1.75,0.1,2,0];
const seCr_a_dn = [-5,0,-2.52,0,-2.38,-1.6,-2.3,-6,-2.2,-2.8,-2.1,-1.6,-1.99,-0.1,-1.88,-0.8,-1.7,-2,-1.58,-3.6,-1.52,-6,-1.49,0,1.13,0,1.41,-0.4,1.55,-1,2,-1];
const seCr_b_up = [-5,0,-4.75,0,-4.5,1.8,-4.3,3.4,-4.19,8,-4.1,3.1,-4.02,1.2,-3.85,0.4,-3.5,0.4,-3.43,1.8,-3.22,3.4,-3.15,8,-3.05,4,-2.97,3.6,-2.9,0,-1.22,0,-1.16,8,-0.93,4.1,-0.84,8,-0.73,4.4,-0.66,8,-0.55,3.4,-0.32,1.8,-0.18,1.1,0,0.4,0.5,0.5,0.93,0.6,1.34,0.8,1.75,1.2,1.9,1.4,2,0.8];
const seCr_b_dn = [-5,0,-3.98,0,-3.8,-1.6,-3.64,-3.6,-3.5,-1.8,-3.36,-0.4,-3.29,-0.2,-3.15,-1,-2.94,-2.4,-2.82,-6,-2.76,0,1.06,0,1.34,-1.2,1.48,-1.4,1.62,-1.2,1.76,-1.6,2,-2];
const seCr_g_up = [-5,0,-4.55,0,-4.35,1.8,-4.27,8,-4.2,1.8,-4,0.6,-3.7,0.4,-3.45,1.2,-3.36,3.2,-3.3,8,-3.15,4.4,-3.08,2.8,-3.02,0,-1.46,0,-1.35,1.8,-1.3,8,-1.1,3.9,-0.95,4.3,-0.8,4,-0.6,2.8,-0.38,1.6,-0.17,0.4,0,0.1,0.44,0.2,0.86,0.8,1,1.4,1.55,1.4,1.8,1.2,2,0.6];
const seCr_g_dn = [-5,0,-4.4,0,-4.2,-1.2,-4,-2.8,-3.92,-3.6,-3.78,-2,-3.56,-0.4,-3.44,-0.2,-3.3,-1,-3.1,-2,-2.95,-3.6,-2.87,-6,-2.75,-2.8,-2.69,0,0.86,0,1.27,-0.4,1.55,-0.8,1.68,-1.2,1.82,-2.8,1.95,-4.7,2,-5];

const seMn_a_up = [-5,0,-4.22,0,-4.18,8,-3.98,8,-3.97,0,-3.35,0,-3.2,1.1,-3.12,2.45,-2.98,2,-2.78,1.3,-2.57,0.7,-2.45,0.1,-2.24,0.5,-1.9,1.3,-1.84,2.2,-1.77,4.8,-1.66,3.4,-1.56,2.8,-1.42,3,-1.38,0.1,-1.2,0.3,-0.8,0.7,-0.46,0.9,-0.25,0.85,0,0.75,0.3,0.5,0.72,0.1,1,0,2,0];
const seMn_a_dn = [-5,0,-2.8,0,-2.6,-1.9,-2.57,-3.7,-2.42,-2,-2.21,-0.5,-2.07,-0.3,-1.97,-1.3,-1.84,-2.5,-1.77,-4,-1.7,-6,-1.52,-6,-1.5,0,-0.02,0,0,-6,0.35,-6,0.4,-3.7,0.45,-3.1,0.47,-0.5,0.65,-0.7,0.86,-0.9,1,-1.1,1.27,-0.9,1.55,-0.5,1.9,-0.1,2,0];
const seMn_b_up = [-5,4.2,-4.95,8,-4.9,5,-4.8,2.6,-4.72,1.1,-4.6,0.5,-4.45,1.5,-4.3,3.9,-4.2,8,-4.05,0,-3.95,3,-3.88,8,-3.8,0,-3.73,8,-3.62,0,-3.55,8,-3.4,3.9,-3.32,2.3,-3.2,2.7,-3.08,3,-2.8,3,-2.5,3,-2.4,2,-2.2,1.1,-2.05,0.3,-1.92,0,-0.45,0,-0.3,0.3,0,0.5,0.24,0.7,0.5,1.3,0.72,2,0.78,0.7,0.86,0.3,1.34,0.5,1.75,0.9,2,0.7];
const seMn_b_dn = [-5,-0.5,-4.8,-2,-4.6,-3.3,-4.4,-4.5,-4.27,-3.7,-4.12,-0.5,-3.91,-0.1,-3.84,-1.5,-3.63,-1.9,-3.5,-3.3,-3.43,-6,-3.38,0,-0.32,0,-0.25,-1.7,-0.11,-2.3,0.03,-1.9,0.17,-2.5,0.24,-6,0.45,-6,0.5,-3.6,0.58,-6,0.72,-1.5,0.79,-1.1,1,-0.5,1.34,-0.4,1.62,-0.6,1.85,-0.7,2,-0.3];
const seMn_g_up = [-5,3.1,-4.85,1.5,-4.7,0.7,-4.55,0.3,-4.4,1.9,-4.32,3.5,-4.25,8,-4.1,8,-4.05,0,-3.1,0,-3.02,8,-2.8,3.5,-2.72,1.5,-2.58,1.9,-2.5,2.7,-2.38,2.9,-2.3,4.2,-2.15,3,-2,2.2,-1.8,1,-1.58,0,-0.1,0,0.17,0.5,0.45,1.1,1,1.1,1.2,0.3,1.41,0.35,1.7,0.55,2,0.55];
const seMn_g_dn = [-5,-0.5,-4.85,-1.7,-4.6,-3.7,-4.45,-2.1,-4.3,-0.5,-4.12,-0.1,-3.98,-1.1,-3.84,-2.5,-3.7,-5,-3.63,-3.7,-3.5,-1.7,-3.36,0,-0.6,0,-0.39,-0.9,-0.18,-2.5,-0.04,-6,0.1,-2.2,0.17,-1.4,0.24,-3.3,0.3,-3.1,0.44,-4.1,0.58,-0.5,0.72,-6,0.86,-2.1,1,-1.1,1.13,-0.7,1.2,-1.7,1.34,-1.1,1.55,-0.7,1.75,-0.9,1.9,-2.1,2,-2.2];

const seFe_a_up = [-5,0,-3.44,0,-3.36,8,-3.26,8,-3.1,1.4,-2.98,2,-2.9,4.3,-2.83,4,-2.75,1.4,-2.68,8,-2.5,8,-2.38,3.6,-2.25,0.4,-2.18,0,-2.04,0.4,-1.84,1.2,-1.7,3,-1.62,8,-1.5,2.8,-1.35,2.4,-1.12,2.2,-1.08,0.2,-0.5,0.4,0,0.7,0.17,0.9,0.58,0.8,1,0.4,1.41,0,2,0];
const seFe_a_dn = [-5,0,-2.95,0,-2.75,-2,-2.58,-3.5,-2.45,-2,-2.22,-0.8,-2.1,-0.1,-1.96,-1.2,-1.75,-2.8,-1.64,-4.5,-1.58,-6,-1.55,0,-0.08,0,-0.05,-6,0.02,-6,0.03,-0.4,0.17,-0.8,0.44,-1.8,0.58,-2.6,0.72,-3.6,0.79,-4.7,0.88,-3.8,1.06,-3.2,1.13,-1.2,1.27,-1.4,1.41,-1,1.55,-0.6,1.82,-0.2,2,0];
const seFe_b_up = [-5,0,-4.68,0,-4.5,1.2,-4.35,2.8,-4.22,4.7,-4.15,3.6,-4.05,1.2,-3.78,0.4,-3.6,1.2,-3.48,3.6,-3.42,8,-3.3,8,-3.25,1.8,-3.17,0,-2.43,0,-2.4,8,-2.22,3.6,-2.1,4.4,-2.02,8,-1.9,8,-1.84,3.6,-1.7,4,-1.63,8,-1.55,1,-1.5,0,-0.46,0,0,0.4,0.4,0.6,0.8,0.8,1.34,1,1.62,1.6,1.73,2.4,1.82,0.6,2,0.6];
const seFe_b_dn = [-5,0,-4.62,0,-4.35,-1.6,-4.2,-3.6,-4.08,-3.75,-3.98,-2,-3.84,-0.2,-3.77,-0.1,-3.63,-0.4,-3.5,-1.4,-3.36,-1.6,-3.22,-2.4,-3.08,-3.6,-2.95,-6,-2.92,0,-0.32,0,-0.25,-2,-0.18,-6,0.02,-6,0.05,0,0.38,0,0.44,-0.4,0.52,-2.1,0.8,-2,0.92,-1.8,1,-0.8,1.1,-5,1.2,-2.8,1.34,-1.6,1.62,-1.1,2,-0.6];
const seFe_g_up = [-5,0,-4.68,0,-4.45,1.6,-4.32,3.95,-4.25,2.4,-4.1,2,-3.95,1.2,-3.78,0.1,-3.55,0.2,-3.42,2.8,-3.38,4.8,-3.3,0.2,-3.2,0,-2.33,0,-2.29,8,-2.2,5,-2.12,3.6,-2,4.4,-1.95,3.6,-1.77,2.8,-1.7,1.6,-1.63,0.8,-1.5,2.8,-1.36,4.3,-1.28,3.9,-1.22,8,-1.15,3.6,-1,2,-0.8,0.8,-0.6,0,0.16,0.2,0.58,0.4,1,0.8,1.27,1.2,2,1.2];
const seFe_g_dn = [-5,0,-4.68,0,-4.4,-1.6,-4.25,-2.8,-4.12,-3.6,-3.98,-2,-3.84,-0.8,-3.7,-0.2,-3.56,-0.4,-3.42,-1.4,-3.29,-1.8,-3.15,-2.4,-3,-4.4,-2.94,-6,-2.8,-3.6,-2.6,0,-0.05,0,-0.03,-6,0.03,-6,0.05,0,0.35,-0.4,0.58,-1.6,0.72,-3.6,0.8,-3.2,0.86,-4.4,0.93,-6,1.13,-4.8,1.27,-2.4,1.41,-1.6,1.6,-0.8,2,-0.4];

const seCo_a_up = [-5,0,-2.8,0,-2.7,2.7,-2.6,3.8,-2.53,2.4,-2.43,1.6,-2.38,8,-2.2,8,-2.12,3,-2.04,3.6,-1.97,1.3,-1.88,0.5,-1.7,1.1,-1.5,1.9,-1.35,2.4,-1.28,4.4,-1.2,4.8,-1.08,8,-1,4.8,-0.9,3.2,-0.73,2.6,-0.69,0,-0.4,0.05,0,0.2,0.4,0.5,0.86,0.9,1.13,0.8,1.55,0.3,1.9,0,2,0];
const seCo_a_dn = [-5,0,-2.66,0,-2.45,-1.3,-2.3,-3.5,-2.15,-1.9,-1.95,-0.5,-1.88,-0.1,-1.75,-0.9,-1.55,-1.9,-1.4,-3.1,-1.35,-6,-1.21,-6,-1.2,0,-0.2,0,-0.18,-6,0,-6,0.02,0,0.17,-0.7,0.44,-1.1,0.72,-1.5,0.86,-1.9,0.93,-1.7,1.06,-3.7,1.13,-6,1.34,-3.5,1.41,-2.3,1.48,-1.5,1.62,-0.9,1.82,-0.1,2,0];
const seCo_b_up = [-5,0,-4.75,0,-4.5,1.7,-4.3,4.8,-4.25,8,-4.15,2.8,-4,0.9,-3.8,0.3,-3.6,0.5,-3.5,2.4,-3.43,8,-3.3,4.8,-3.2,2.8,-3.05,2,-2.85,0.5,-2.8,0,-2.6,0,-2.45,2,-2.39,8,-2.25,3.6,-2.1,3.2,-2.05,4.8,-1.98,8,-1.9,2,-1.82,4.8,-1.75,8,-1.6,2,-1.45,0.9,-1.35,0,-0.87,0,0,0.3,0.65,0.5,1.34,0.9,1.62,1.5,1.75,2.45,1.86,0.5,2,0.3];
const seCo_b_dn = [-5,0,-4.68,0,-4.45,-1.1,-4.3,-2.7,-4.18,-3.7,-4.1,-2.7,-3.97,-0.7,-3.84,-0.3,-3.63,-0.2,-3.56,-1.3,-3.36,-1.7,-3.22,-2.7,-3.08,-4.1,-2.94,-6,-2.9,0,-0.92,0,-0.9,-6,-0.75,-6,-0.73,0,-0.7,-6,-0.55,-6,-0.46,-3.7,-0.32,-2.7,-0.18,-1.5,-0.1,-1.7,0,-0.7,0.05,-1.8,0.1,-6,0.2,-1.9,0.3,-1.1,0.51,-0.5,0.8,-0.3,1.34,-0.5,1.75,-0.7,2,-0.9];
const seCo_g_up = [-5,0,-4.82,0,-4.6,1.3,-4.45,2.8,-4.39,4,-4.32,3,-4.18,2,-4,1.3,-3.86,0.9,-3.73,1.7,-3.6,3.6,-3.52,4.8,-3.48,8,-3.42,0,-2.74,0,-2.6,2,-2.4,3.6,-2.29,8,-2.22,3.5,-2.2,0,-2.1,3,-1.9,3.6,-1.82,3.2,-1.65,4,-1.5,4.5,-1.43,8,-1.35,4,-1.2,2.8,-1.07,1.7,-0.94,0.9,-0.8,0.1,-0.1,0,0.3,0.15,0.86,0.5,1.27,1,1.41,1.05,2,1.05];
const seCo_g_dn = [-5,0,-4.82,0,-4.55,-1.1,-4.35,-2.7,-4.12,-2.9,-3.98,-1.5,-3.84,-0.3,-3.66,0,-3.52,-0.9,-3.36,-1.5,-3.22,-1.9,-3.15,-3.5,-3.07,-6,-2.94,-2.7,-2.8,-1.1,-2.67,0,-0.82,0,-0.8,-6,-0.6,-6,-0.59,0,-0.22,0,-0.21,-6,-0.08,-6,-0.06,-1.9,0,-1.5,0.17,-2.4,0.3,-1.5,0.51,-0.5,0.86,-0.1,1.27,-0.1,1.55,-0.3,1.82,-0.7,2,-0.9];

const seNi_a_up = [-5,0,-2.66,0,-2.55,1.7,-2.49,4.9,-2.42,2,-2.3,1.2,-2.15,1,-2.08,0.3,-2.05,8,-1.96,4.8,-1.8,3.7,-1.64,2.9,-1.57,1.9,-1.5,2.9,-1.42,1.9,-1.35,2.5,-1.28,2.9,-1.13,3.7,-1.05,8,-0.98,4.1,-0.8,3.5,-0.64,2.9,-0.61,0,-0.4,0,0,0.4,0.44,0.7,0.86,0.9,1.27,0.7,1.55,0.3,1.9,0,2,0];
const seNi_a_dn = [-5,0,-2.66,0,-2.45,-1.9,-2.31,-2.65,-2.15,-1.5,-1.96,-0.5,-1.82,-0.2,-1.68,-1.1,-1.46,-2.3,-1.34,-6,-1.22,-4.5,-1.16,0,-0.6,0,-0.58,-6,-0.42,-6,-0.41,0,-0.26,0,-0.25,-6,-0.06,-6,0,-3.4,0.11,-3.25,0.25,-3,0.38,-3.4,0.46,-0.7,0.72,-0.7,1,-0.9,1.41,-0.7,1.7,-0.3,2,-0.1];
const seNi_b_up = [-5,0,-4,0,-3.8,1.3,-3.65,2.1,-3.54,4.5,-3.46,1.7,-3.3,0.9,-3.05,0.3,-2.8,0,-2.72,1.3,-2.67,8,-2.5,8,-2.35,3,-2.32,0,-1.43,0,-1.39,8,-1.3,3.5,-1.2,4,-1.1,4.8,-1,8,-0.88,4.4,-0.73,2.9,-0.6,1.7,-0.45,0.5,-0.39,0,0.1,0,0.65,0.1,1.34,0.3,1.62,0.5,2,0.8];
const seNi_b_dn = [-5,0,-4,0,-3.75,-1.5,-3.62,-2.6,-3.48,-4.4,-3.36,-2.3,-3.22,-0.7,-3,-0.3,-2.94,-1.3,-2.72,-1.8,-2.57,-2.6,-2.43,-3.8,-2.35,-6,-2.28,-6,-2.26,0,-0.86,0,-0.84,-6,-0.7,-6,-0.68,0,-0.6,0,-0.58,-6,-0.43,-6,-0.4,-0.7,-0.34,-6,-0.18,-6,-0.04,-2.6,0.1,-1.5,0.24,-0.7,0.44,-0.3,0.8,-0.2,1.34,-0.3,1.75,-0.5,2,-0.6];
const seNi_g_up = [-5,0,-4.55,0,-4.3,1.3,-4.15,2.1,-4.06,4,-3.98,2.3,-3.84,1.5,-3.64,0.5,-3.5,0,-3.3,0.8,-3.16,2.1,-3.03,3.7,-2.93,2.5,-2.8,4.5,-2.72,8,-2.62,4.3,-2.54,0,-1.43,0,-1.39,8,-1.22,4.5,-1.16,1.7,-1.1,2.1,-0.94,3.1,-0.8,4,-0.73,8,-0.66,4,-0.52,2.9,-0.39,1.7,-0.11,0.5,0.17,0,1.3,0,1.55,0.3,1.82,0.9,2,1.5];
const seNi_g_dn = [-5,0,-4.47,0,-4.25,-1.1,-4.12,-1.7,-3.98,-2.6,-3.91,-3.4,-3.77,-1.9,-3.63,-0.5,-3.49,-0.2,-3.36,-1.1,-3.15,-1.9,-3,-2.6,-2.87,-3.8,-2.66,-4.3,-2.53,-6,-2.5,0,-0.75,0,-0.73,-6,-0.59,-6,-0.56,0,-0.5,0,-0.48,-6,-0.3,-6,-0.18,-4.2,-0.1,-3.4,0,-3.2,0.04,-2.2,0.17,-1.1,0.3,-0.5,0.58,-0.2,1.27,0,1.82,-0.2,2,-0.3];

const seCu_a_up = [-5,0,-2.1,0,-1.95,1.6,-1.84,3.6,-1.74,2,-1.57,1,-1.43,0.8,-1.36,0,-1.33,8,-1.2,4.8,-1.05,4.4,-0.95,8,-0.9,0.8,-0.85,8,-0.8,0,-0.73,2,-0.66,3.6,-0.58,5,-0.52,3.2,-0.39,2.8,-0.18,2.6,-0.04,3.2,0,0,0.17,0.2,0.58,0.6,1.13,1,1.41,0.8,1.68,0.4,2,0];
const seCu_a_dn = [-5,0,-2.1,0,-1.95,-1.4,-1.88,-3.4,-1.77,-1.8,-1.57,-1,-1.38,-0.6,-1.33,-0.6,-1.3,-6,-1.1,-6,-1.08,-4.4,-1,-6,-0.93,-3.5,-0.87,0,-0.85,-6,-0.8,-6,-0.73,-2,-0.6,-2.6,-0.45,-2.6,-0.3,-3,-0.1,-3.2,-0.02,-3.4,0,0,0.17,-0.1,0.58,-0.4,1.13,-0.9,1.41,-0.8,1.7,-0.4,2,-0.1];
const seCu_b_up = [-5,0,-3.3,0,-3.1,1.6,-2.95,3.6,-2.88,8,-2.8,4,-2.72,1.2,-2.58,0.6,-2.38,0.1,-2.32,0.1,-2.18,2,-2,3.2,-1.9,4.3,-1.85,8,-1.78,4.8,-1.7,8,-1.6,2,-1.48,0.8,-1.42,0,-0.97,0,-0.95,8,-0.87,4.8,-0.8,1.6,-0.73,4.4,-0.66,3.6,-0.6,5,-0.46,4.4,-0.32,2.8,-0.18,1.4,-0.04,0.4,0.03,0,0.65,0.05,1.34,0.2,1.75,0.4,2,0.5];
const seCu_b_dn = [-5,0,-3.3,0,-3.1,-1.6,-2.95,-3.6,-2.88,-6,-2.76,-6,-2.72,-2,-2.58,-0.6,-2.38,-0.2,-2.32,-0.1,-2.24,-1.2,-2.1,-2,-1.96,-3.6,-1.9,-6,-1.7,-6,-1.63,-4.4,-1.49,0,-0.96,0,-0.94,-6,-0.87,-1.6,-0.8,-6,-0.73,-2,-0.66,-4.2,-0.58,-4.8,-0.52,-3.6,-0.38,-2.6,-0.25,-1.6,-0.1,-0.6,0.03,-0.1,0.65,-0.2,1.34,-0.3,2,-0.4];
const seCu_g_up = [-5,0,-3.71,0,-3.5,1.6,-3.36,3.95,-3.28,2.4,-3.15,1.2,-2.95,0.8,-2.8,0.2,-2.66,1.6,-2.52,2.8,-2.45,4.8,-2.32,8,-2.25,0,-1.54,0,-1.52,8,-1.42,3.1,-1.35,4.8,-1.28,2.4,-1.2,2.8,-1.13,2,-1.06,2.4,-0.94,4,-0.87,4.4,-0.8,3.1,-0.66,3,-0.52,2,-0.39,1.2,-0.18,0.4,0.03,0.1,0.65,0.05,1.27,0.1,1.68,0.3,2,0.6];
const seCu_g_dn = [-5,0,-3.71,0,-3.5,-1.6,-3.4,-3.6,-3.36,-6,-3.22,-2,-3,-0.8,-2.8,-0.3,-2.66,-1.4,-2.45,-2.8,-2.32,-6,-2.25,0,-1.53,0,-1.52,-6,-1.42,-6,-1.36,-2,-1.28,-2.4,-1.2,-2,-1.06,-2.8,-0.94,-3.6,-0.8,-3,-0.66,-2.4,-0.46,-1.6,-0.25,-0.8,-0.04,-0.2,0.5,0,1.27,-0.2,2,-0.4];

const seZn_a_up = [-5,0,-2.88,0,-2.75,1.6,-2.62,2.85,-2.52,2,-2.38,1.1,-2.18,0.5,-1.98,0.1,-1.63,0,-1.35,0.5,-1.08,1.3,-0.94,2.1,-0.84,4,-0.8,8,-0.65,8,-0.52,0.85,-0.4,1.3,-0.25,1.1,-0.18,1.5,-0.1,1.25,0,1.3,0.3,1.1,0.44,0.7,0.58,0,2,0];
const seZn_a_dn = [-5,0,-2.88,0,-2.75,-1.5,-2.62,-2.85,-2.52,-1.9,-2.3,-1.1,-1.97,-0.2,-1.63,0,-1.35,-0.5,-1.08,-1.3,-0.87,-2.7,-0.8,-4.3,-0.73,-6,-0.6,-6,-0.52,-0.7,-0.3,-0.9,0,-1.3,0.3,-1.1,0.44,-0.9,0.58,0,2,0];
const seZn_b_up = [-5,0,-4.33,0,-4.18,1.2,-4.05,4,-3.98,2,-3.84,1,-3.64,0.5,-3.36,0.2,-2.8,0,-2.77,3.05,-2.6,1.85,-2.4,2.05,-2.27,3.6,-2.16,8,-2.05,8,-1.98,0,-1.5,0.1,-0.73,0.4,-0.18,0.9,0.1,1.1,0.37,1.65,0.51,0,1.62,0,1.7,0.5,2,0.55];
const seZn_b_dn = [-5,0,-4.33,0,-4.18,-1.5,-4.05,-4.3,-3.98,-2.3,-3.84,-1.3,-3.56,-0.7,-3.08,-0.2,-2.8,0,-2.77,-2.9,-2.6,-1.9,-2.4,-2.1,-2.26,-2.7,-2.14,-4.7,-2.05,-6,-1.98,0,-1.5,0,-0.73,-0.3,-0.18,-0.7,0.24,-1.1,0.37,-1.7,0.51,0,1.55,0,1.62,-0.3,2,-0.5];
const seZn_g_up = [-5,0,-4.55,0,-4.35,1.2,-4.27,8,-4.12,8,-4.1,2,-3.98,1.2,-3.7,0.5,-3.15,0.1,-2.87,0,-2.8,2.05,-2.65,1.7,-2.52,2.3,-2.38,3.4,-2.32,3.75,-2.18,3.75,-2.12,2.4,-1.98,1.2,-1.77,0,-1.22,0.15,-0.66,0.4,-0.39,0.7,-0.1,1.05,0.17,1.15,0.3,1.05,0.44,0.5,0.55,0,1.62,0,1.75,0.4,2,0.45];
const seZn_g_dn = [-5,0,-4.55,0,-4.35,-1.5,-4.27,-6,-4.12,-6,-4.1,-2.3,-3.98,-1.3,-3.7,-0.7,-3.15,-0.2,-2.87,0,-2.8,-1.9,-2.65,-2.1,-2.52,-1.7,-2.38,-2.3,-2.32,-3.3,-2.18,-3.5,-2.04,-2.3,-1.9,-1.1,-1.7,0,-0.94,-0.1,-0.39,-0.5,-0.04,-1.05,0.17,-1.1,0.3,-1.1,0.44,-0.9,0.55,0,1.62,0,1.75,-0.3,2,-0.5];

// ---------- tables built from the arrays ----------
const KZAS_CELLS = [
  [[asSc_a_up, asSc_a_dn], [asSc_b_up, asSc_b_dn], [asSc_g_up, asSc_g_dn]],
  [[asTi_a_up, asTi_a_dn], [asTi_b_up, asTi_b_dn], [asTi_g_up, asTi_g_dn]],
  [[asV_a_up, asV_a_dn], [asV_b_up, asV_b_dn], [asV_g_up, asV_g_dn]],
  [[asCr_a_up, asCr_a_dn], [asCr_b_up, asCr_b_dn], [asCr_g_up, asCr_g_dn]],
  [[asMn_a_up, asMn_a_dn], [asMn_b_up, asMn_b_dn], [asMn_g_up, asMn_g_dn]],
  [[asFe_a_up, asFe_a_dn], [asFe_b_up, asFe_b_dn], [asFe_g_up, asFe_g_dn]],
  [[asCo_a_up, asCo_a_dn], [asCo_b_up, asCo_b_dn], [asCo_g_up, asCo_g_dn]],
  [[asNi_a_up, asNi_a_dn], [asNi_b_up, asNi_b_dn], [asNi_g_up, asNi_g_dn]],
  [[asCu_a_up, asCu_a_dn], [asCu_b_up, asCu_b_dn], [asCu_g_up, asCu_g_dn]],
  [[asZn_a_up, asZn_a_dn], [asZn_b_up, asZn_b_dn], [asZn_g_up, asZn_g_dn]],
];
const KZSE_CELLS = [
  [[seSc_a_up, seSc_a_dn], [seSc_b_up, seSc_b_dn], [seSc_g_up, seSc_g_dn]],
  [[seTi_a_up, seTi_a_dn], [seTi_b_up, seTi_b_dn], [seTi_g_up, seTi_g_dn]],
  [[seV_a_up, seV_a_dn], [seV_b_up, seV_b_dn], [seV_g_up, seV_g_dn]],
  [[seCr_a_up, seCr_a_dn], [seCr_b_up, seCr_b_dn], [seCr_g_up, seCr_g_dn]],
  [[seMn_a_up, seMn_a_dn], [seMn_b_up, seMn_b_dn], [seMn_g_up, seMn_g_dn]],
  [[seFe_a_up, seFe_a_dn], [seFe_b_up, seFe_b_dn], [seFe_g_up, seFe_g_dn]],
  [[seCo_a_up, seCo_a_dn], [seCo_b_up, seCo_b_dn], [seCo_g_up, seCo_g_dn]],
  [[seNi_a_up, seNi_a_dn], [seNi_b_up, seNi_b_dn], [seNi_g_up, seNi_g_dn]],
  [[seCu_a_up, seCu_a_dn], [seCu_b_up, seCu_b_dn], [seCu_g_up, seCu_g_dn]],
  [[seZn_a_up, seZn_a_dn], [seZn_b_up, seZn_b_dn], [seZn_g_up, seZn_g_dn]],
];
const PANEL_CELLS = [KZAS_CELLS, KZSE_CELLS];

// ---------- layout ----------
const PANEL_LEFT = [72, 759];
const CELL_W = 203;
const CELL_H = 86;
const ROW_TOP0 = 5;
const ROW_PITCH = 93.75;
const ML = 50, MR = 14, MT = 22, MB = 32;
const SERIF = "'Liberation Serif', 'Times New Roman', Times, serif";
const SANS = "'Liberation Sans', Arial, Helvetica, sans-serif";

const rowTop = (r: number) => Math.round(ROW_TOP0 + r * ROW_PITCH);
const toPoints = (a: number[]) => {
  const out: { x: number; y: number }[] = [];
  for (let i = 0; i + 1 < a.length; i += 2) out.push({ x: a[i], y: a[i + 1] });
  return out;
};

const framePlugin = {
  id: 'dosFrame',
  beforeDatasetsDraw(chart: any) {
    const { ctx, chartArea: a, scales } = chart;
    const xs = scales.x, ys = scales.y;
    ctx.save();
    ctx.lineWidth = 1;
    ctx.strokeStyle = '#000';
    const y0 = Math.round(ys.getPixelForValue(0)) + 0.5;
    ctx.beginPath();
    ctx.moveTo(a.left, y0);
    ctx.lineTo(a.right, y0);
    ctx.stroke();
    ctx.strokeStyle = '#444';
    const x0 = Math.round(xs.getPixelForValue(0)) + 0.5;
    ctx.beginPath();
    ctx.moveTo(x0, a.top);
    ctx.lineTo(x0, a.bottom);
    ctx.stroke();
    ctx.restore();
  },
  afterDatasetsDraw(chart: any) {
    const { ctx, chartArea: a, scales } = chart;
    const xs = scales.x, ys = scales.y;
    ctx.save();
    ctx.strokeStyle = '#000';
    ctx.lineWidth = 1;
    ctx.beginPath();
    for (const v of X_MARKS) {
      const px = Math.round(xs.getPixelForValue(v)) + 0.5;
      const len = v % 2 === 0 ? 6 : 4;
      ctx.moveTo(px, a.top);
      ctx.lineTo(px, a.top + len);
      ctx.moveTo(px, a.bottom);
      ctx.lineTo(px, a.bottom - len);
    }
    for (const v of Y_MARKS) {
      const py = Math.round(ys.getPixelForValue(v)) + 0.5;
      const len = v % 3 === 0 ? 6 : 4;
      ctx.moveTo(a.left, py);
      ctx.lineTo(a.left + len, py);
      ctx.moveTo(a.right, py);
      ctx.lineTo(a.right - len, py);
    }
    ctx.stroke();
    ctx.lineWidth = 2;
    ctx.strokeRect(a.left, a.top, a.right - a.left, a.bottom - a.top);
    ctx.restore();
  },
};

function Cell({ panel, row, col }: { panel: number; row: number; col: number }) {
  const ref = useRef<HTMLCanvasElement | null>(null);
  const W = CELL_W + ML + MR;
  const H = CELL_H + MT + MB;
  const left = PANEL_LEFT[panel] + col * CELL_W - ML;
  const top = rowTop(row) - MT;
  useEffect(() => {
    const [up, dn] = PANEL_CELLS[panel][row][col];
    const showX = row === ELEMENTS.length - 1;
    const showY = col === 0;
    const tickFont = { family: SERIF, size: 20 };
    const chart = new Chart(ref.current as HTMLCanvasElement, {
      type: 'line',
      data: {
        datasets: [
          { data: toPoints(up), borderColor: '#ff0000', borderWidth: 1, pointRadius: 0, tension: 0, fill: false, order: 2 },
          { data: toPoints(dn), borderColor: '#0000ff', borderWidth: 1, pointRadius: 0, tension: 0, fill: false, order: 1 },
        ],
      },
      options: {
        animation: false,
        responsive: false,
        maintainAspectRatio: false,
        devicePixelRatio: 1,
        events: [],
        layout: { padding: { left: 0, right: MR, top: MT, bottom: 0 } },
        plugins: { legend: { display: false }, tooltip: { enabled: false }, title: { display: false } },
        scales: {
          x: {
            type: 'linear',
            min: X_MIN,
            max: X_MAX,
            grid: { display: false, drawTicks: false },
            border: { display: false },
            afterBuildTicks: (s: any) => { s.ticks = X_LABEL_TICKS.map((v) => ({ value: v })); },
            afterFit: (s: any) => { s.height = MB; },
            ticks: { display: showX, autoSkip: false, maxRotation: 0, minRotation: 0, padding: 2, color: '#000', font: tickFont, callback: (v: any) => String(v) },
          },
          y: {
            type: 'linear',
            min: Y_MIN,
            max: Y_MAX,
            grid: { display: false, drawTicks: false },
            border: { display: false },
            afterBuildTicks: (s: any) => { s.ticks = Y_LABEL_TICKS.map((v) => ({ value: v })); },
            afterFit: (s: any) => { s.width = ML; },
            ticks: { display: showY, autoSkip: false, padding: panel === 0 ? 6 : 8, color: '#000', font: tickFont, callback: (v: any) => String(v) },
          },
        },
      } as any,
      plugins: [framePlugin],
    });
    return () => chart.destroy();
  }, [panel, row, col]);
  return (
    <canvas
      ref={ref}
      width={W}
      height={H}
      style={{ position: 'absolute', left, top, width: W, height: H }}
    />
  );
}

const PHASE_POS = [
  [{ x: 79, b: 33 }, { x: 287, b: 33 }, { x: 484, b: 28 }],
  [{ x: 763, b: 32 }, { x: 972, b: 33 }, { x: 1177, b: 30 }],
];
const ROW_LABEL_X = [82, 763];
const BOX_POS = [
  { x: 437, y: 161, w: 145, h: 45 },
  { x: 1136, y: 167, w: 145, h: 44 },
];
const Y_TITLE_X = [23, 710];
const X_TITLE_X = [377, 1064];

export default function App() {
  const cells: React.ReactNode[] = [];
  for (let p = 0; p < 2; p++)
    for (let r = 0; r < ELEMENTS.length; r++)
      for (let c = 0; c < PHASES.length; c++)
        cells.push(<Cell key={`${p}-${r}-${c}`} panel={p} row={r} col={c} />);

  const texts: React.ReactNode[] = [];
  for (let p = 0; p < 2; p++) {
    PHASES.forEach((ph, c) => {
      const pos = PHASE_POS[p][c];
      texts.push(
        <div key={`ph${p}${c}`} style={{ position: 'absolute', left: pos.x, top: pos.b - 27, font: `italic bold 32px ${SERIF}`, lineHeight: '32px', whiteSpace: 'nowrap', color: '#000' }}>{ph}</div>
      );
    });
    ELEMENTS.forEach((el, r) => {
      texts.push(
        <div key={`el${p}${r}`} style={{ position: 'absolute', left: ROW_LABEL_X[p], top: rowTop(r) + 75 - 22, font: `bold 26px ${SANS}`, lineHeight: '26px', whiteSpace: 'nowrap', color: '#000' }}>{el}</div>
      );
    });
    const bx = BOX_POS[p];
    texts.push(
      <div key={`box${p}`} style={{
        position: 'absolute', left: bx.x, top: bx.y, width: bx.w, height: bx.h,
        backgroundColor: '#f6f65a',
        backgroundImage: 'radial-gradient(circle, #ffffb8 0.8px, transparent 1px)',
        backgroundSize: '3px 3px',
        display: 'flex', alignItems: 'center', justifyContent: 'center',
        font: `italic bold 46px ${SERIF}`, color: '#000', lineHeight: '45px',
      }}>{COMPOUNDS[p]}</div>
    );
    texts.push(
      <div key={`yt${p}`} style={{
        position: 'absolute', left: Y_TITLE_X[p], top: 424,
        transform: 'translate(-50%, -50%) rotate(-90deg)',
        font: `33px ${SERIF}`, lineHeight: '33px', whiteSpace: 'nowrap', color: '#000',
      }}>{Y_TITLE}</div>
    );
    texts.push(
      <div key={`xt${p}`} style={{
        position: 'absolute', left: X_TITLE_X[p], top: 960,
        transform: 'translateX(-50%)',
        font: `33px ${SERIF}`, lineHeight: '33px', whiteSpace: 'nowrap', color: '#000',
      }}>Energy-E<span style={{ fontSize: 21, position: 'relative', top: 12 }}>F</span> (eV)</div>
    );
  }

  return (
    <div style={{ position: 'absolute', left: 0, top: 0, width: 1390, height: 1000, background: '#fff', overflow: 'hidden' }}>
      {cells}
      {texts}
    </div>
  );
}
